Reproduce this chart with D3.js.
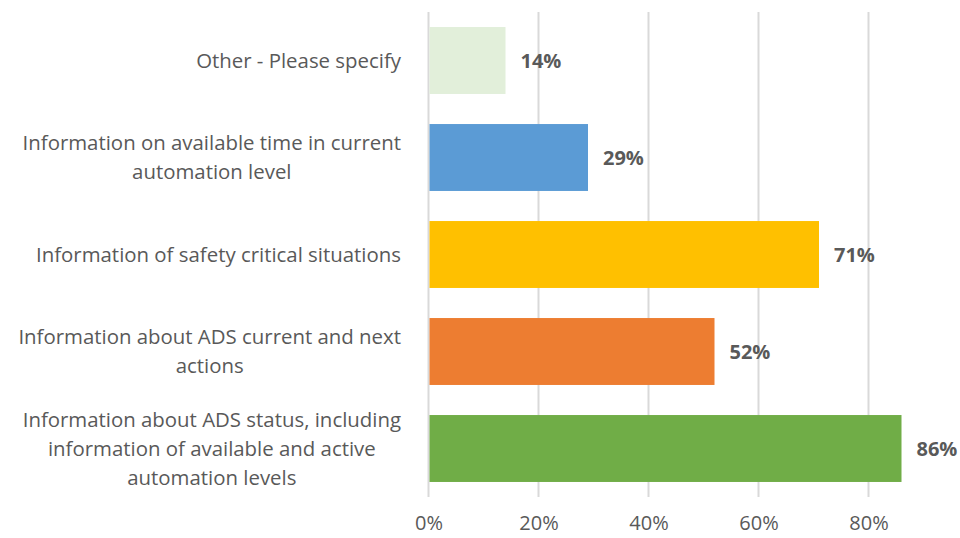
<!DOCTYPE html>
<html>
<head>
<meta charset="utf-8">
<script src="https://cdn.jsdelivr.net/npm/d3@7"></script>
<style>
  html, body { margin: 0; padding: 0; background: #fff; }
  svg { display: block; }
</style>
</head>
<body>
<svg id="chart" width="960" height="538"></svg>
<script>
// Survey answers, one bar per option (share of respondents, %)
const categories = [
  "Other - Please specify",
  "Information on available time in current automation level",
  "Information of safety critical situations",
  "Information about ADS current and next actions",
  "Information about ADS status, including information of available and active automation levels"
];
// Category labels as they wrap on the axis
const labelLines = [
  ["Other - Please specify"],
  ["Information on available time in current", "automation level"],
  ["Information of safety critical situations"],
  ["Information about ADS current and next", "actions"],
  ["Information about ADS status, including", "information of available and active", "automation levels"]
];
const values = [14, 29, 71, 52, 86];
const colors = ["#e2efda", "#5b9bd5", "#ffc000", "#ed7d31", "#70ad47"];
const xTicks = [0, 20, 40, 60, 80];

const svg = d3.select("#chart");
const font = "'Open Sans', Calibri, sans-serif";
const textColor = "#595959";
const fontSize = 20.4;

const x = d3.scaleLinear().domain([0, 100]).range([428.5, 978.5]);
const y = d3.scaleBand().domain(categories).range([12, 497]).paddingInner(0.31).paddingOuter(0.155);

// Vertical gridlines
svg.append("g")
  .selectAll("line")
  .data(xTicks)
  .join("line")
  .attr("x1", d => x(d)).attr("x2", d => x(d))
  .attr("y1", 12).attr("y2", 497)
  .attr("stroke", "#d9d9d9")
  .attr("stroke-width", 2);

// Bars
svg.append("g")
  .selectAll("rect")
  .data(categories)
  .join("rect")
  .attr("x", x(0) + 1)
  .attr("y", d => y(d))
  .attr("width", (d, i) => x(values[i]) - x(0) - 1)
  .attr("height", y.bandwidth())
  .attr("fill", (d, i) => colors[i]);

// Value labels
svg.append("g")
  .selectAll("text")
  .data(categories)
  .join("text")
  .attr("x", (d, i) => x(values[i]) + 15)
  .attr("y", d => y(d) + y.bandwidth() / 2)
  .attr("dy", "0.36em")
  .attr("font-family", font)
  .attr("font-size", 20)
  .attr("font-weight", "bold")
  .attr("fill", textColor)
  .text((d, i) => values[i] + "%");

// Category labels, each block centred on its widest line and right-aligned to the axis
const labelRight = 401;
const lineHeight = 29;
const catG = svg.append("g");
categories.forEach((c, i) => {
  const lines = labelLines[i];
  const t = catG.append("text")
    .attr("font-family", font)
    .attr("font-size", fontSize)
    .attr("fill", textColor)
    .attr("text-anchor", "middle");
  const cy = y(c) + y.bandwidth() / 2;
  lines.forEach((ln, j) => {
    t.append("tspan")
      .attr("y", cy + (j - (lines.length - 1) / 2) * lineHeight)
      .attr("dy", "0.36em")
      .text(ln);
  });
  let maxW = 0;
  t.selectAll("tspan").each(function () {
    maxW = Math.max(maxW, this.getComputedTextLength());
  });
  t.selectAll("tspan").attr("x", labelRight - maxW / 2);
});

// X axis tick labels
const xAxis = d3.axisBottom(x).tickValues(xTicks).tickFormat(d => d + "%").tickSize(0).tickPadding(0);
const axG = svg.append("g").attr("transform", "translate(0,516)").call(xAxis);
axG.select(".domain").remove();
axG.selectAll("text")
  .attr("font-family", font)
  .attr("font-size", 20)
  .attr("fill", textColor);
</script>
</body>
</html>
